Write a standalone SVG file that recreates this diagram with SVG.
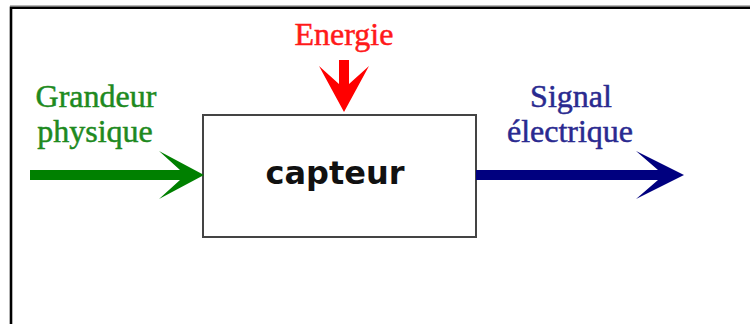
<svg xmlns="http://www.w3.org/2000/svg" width="750" height="324" viewBox="0 0 750 324">
  <style>
    .lbl { font-family: "Liberation Serif", "Times New Roman", serif; font-size: 32px; text-anchor: middle; stroke-width: 0.5; }
    .block { fill: #ffffff; stroke: #444444; stroke-width: 2; }
    .title { font-family: "DejaVu Sans", Verdana, sans-serif; font-weight: bold; font-size: 32px; fill: #111111; text-anchor: middle; }
  </style>
  <rect width="750" height="324" fill="#ffffff"/>

  <!-- outer frame (open at right and bottom) -->
  <g id="frame">
    <line x1="10" y1="5.8" x2="750" y2="5.8" stroke="#999999" stroke-width="1"/>
    <path d="M11 324 V7.8 H750" fill="none" stroke="#000000" stroke-width="2.6"/>
  </g>

  <!-- sensor block -->
  <g id="capteur">
    <rect class="block" x="203" y="115" width="273" height="122"/>
    <text class="title" x="335" y="184">capteur</text>
  </g>

  <!-- flows into and out of the block -->
  <g id="connectors">
    <polygon id="in-physique" fill="#008000" points="30,170 180,170 159,151 204,175 159,199 180,180 30,180"/>
    <polygon id="in-energie" fill="#ff0000" points="339,60 349,60 349,84 369,66 344,112 319,66 339,84"/>
    <polygon id="out-signal" fill="#00007f" points="476,170 658,170 636,151 684,175 636,199 658,180 476,180"/>
  </g>

  <g id="label-energie">
    <text class="lbl" x="344" y="45" fill="#ff1a1a" stroke="#ff1a1a">Energie</text>
  </g>
  <g id="label-grandeur">
    <text class="lbl" x="96" y="107" fill="#1e8a1e" stroke="#1e8a1e">Grandeur</text>
    <text class="lbl" x="95" y="142" fill="#1e8a1e" stroke="#1e8a1e">physique</text>
  </g>
  <g id="label-signal">
    <text class="lbl" x="571" y="107" fill="#2a2a90" stroke="#2a2a90">Signal</text>
    <text class="lbl" x="570" y="142" fill="#2a2a90" stroke="#2a2a90">électrique</text>
  </g>
</svg>
